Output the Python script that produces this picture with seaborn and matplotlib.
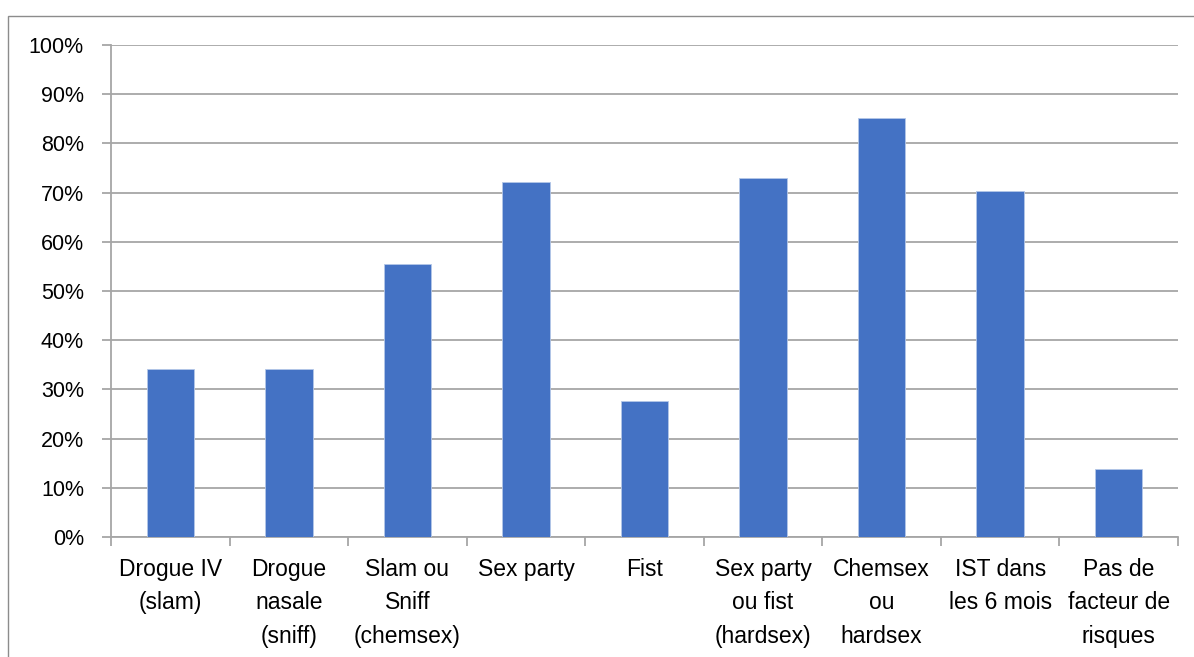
import matplotlib
matplotlib.use("Agg")
import matplotlib.pyplot as plt
import seaborn as sns
import pandas as pd
from matplotlib.patches import Rectangle
from matplotlib.ticker import FuncFormatter, FixedLocator

categories = [
    "Drogue IV\n(slam)",
    "Drogue\nnasale\n(sniff)",
    "Slam ou\nSniff\n(chemsex)",
    "Sex party",
    "Fist",
    "Sex party\nou fist\n(hardsex)",
    "Chemsex\nou\nhardsex",
    "IST dans\nles 6 mois",
    "Pas de\nfacteur de\nrisques",
]
values = [34.2, 34.2, 55.5, 72.1, 27.7, 73.0, 85.2, 70.3, 13.8]
y_ticks = [0, 10, 20, 30, 40, 50, 60, 70, 80, 90, 100]

sns.set_theme(style="white")
plt.rcParams["font.family"] = ["Liberation Sans", "DejaVu Sans"]

df = pd.DataFrame({"cat": categories, "val": values})

fig = plt.figure(figsize=(11.94, 6.57), dpi=100)
ax = fig.add_axes([111 / 1194, 1 - 537 / 657, (1178 - 111) / 1194, (537 - 45) / 657])

grid_c = "#A6A6A6"
sns.barplot(data=df, x="cat", y="val", color="#4472C4", width=0.40,
            saturation=1, ax=ax, zorder=3, edgecolor="#B4C7E7", linewidth=0.6)

ax.set_ylim(0, 100)
ax.set_xlim(-0.5, len(categories) - 0.5)
ax.set_yticks(y_ticks)
ax.yaxis.set_major_formatter(FuncFormatter(lambda v, p: f"{int(v)}%"))
ax.grid(axis="y", color=grid_c, linewidth=1.3, zorder=0)
ax.set_axisbelow(True)

for s in ["top", "right"]:
    ax.spines[s].set_visible(False)
ax.spines["left"].set_color(grid_c)
ax.spines["left"].set_linewidth(1.3)
ax.spines["bottom"].set_color(grid_c)
ax.spines["bottom"].set_linewidth(1.3)

# x ticks at category boundaries (minor), labels at centers
ax.xaxis.set_minor_locator(FixedLocator([i - 0.5 for i in range(len(categories) + 1)]))
ax.tick_params(axis="x", which="major", length=0, pad=15, labelsize=16.5, labelcolor="black")
ax.tick_params(axis="x", which="minor", length=6.5, width=1.3, color=grid_c, direction="out", bottom=True)
ax.tick_params(axis="y", which="major", length=6.5, width=1.3, color=grid_c, direction="out",
               left=True, pad=13, labelsize=15.5, labelcolor="black")
for lab in ax.get_xticklabels():
    lab.set_linespacing(1.58)
    lab.set_ha("center")
    lab.set_va("top")

ax.set_xlabel("")
ax.set_ylabel("")

fig.patches.append(Rectangle((8 / 1194, -0.1), 1.2, 1 - 16 / 657 + 0.1,
                             transform=fig.transFigure, fill=False,
                             edgecolor="#8C8C8C", linewidth=1.0))

fig.savefig("out.png", dpi=100)
